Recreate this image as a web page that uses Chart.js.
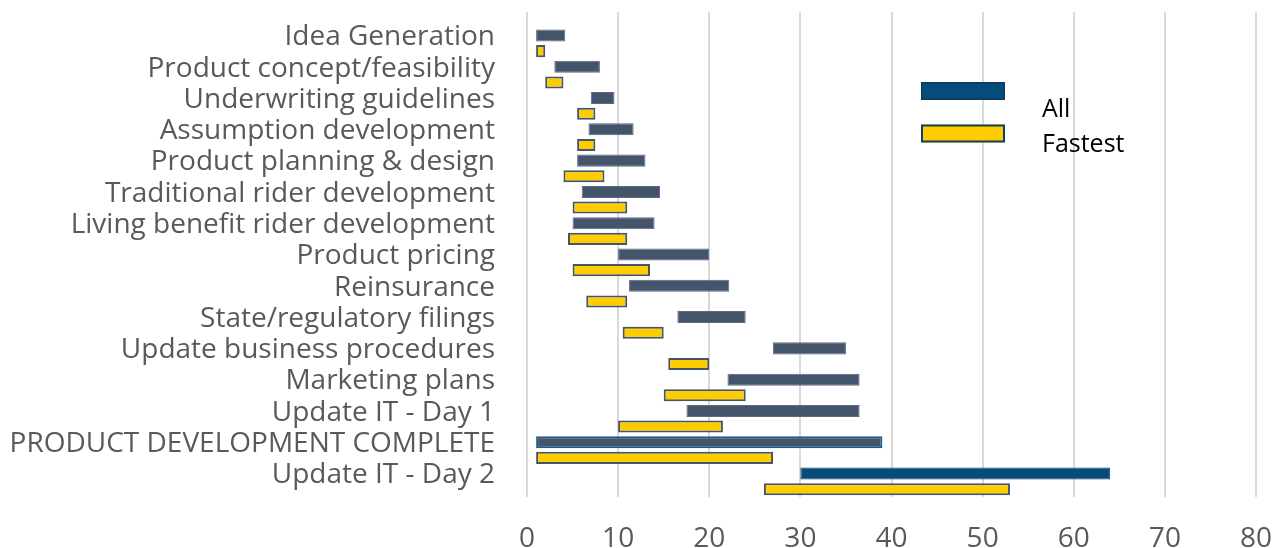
<!DOCTYPE html>
<html><head><meta charset="utf-8">
<script src="https://cdn.jsdelivr.net/npm/chart.js@4.4.1/dist/chart.umd.min.js"></script>
<style>html,body{margin:0;padding:0;background:#fff;} canvas{display:block;}</style>
</head><body>
<canvas id="c" width="1275" height="548"></canvas>
<script>
const categories = [
  "Idea Generation",
  "Product concept/feasibility",
  "Underwriting guidelines",
  "Assumption development",
  "Product planning & design",
  "Traditional rider development",
  "Living benefit rider development",
  "Product pricing",
  "Reinsurance",
  "State/regulatory filings",
  "Update business procedures",
  "Marketing plans",
  "Update IT - Day 1",
  "PRODUCT DEVELOPMENT COMPLETE",
  "Update IT - Day 2"
];
const seriesNames = ["All", "Fastest"];
const allStart     = [1, 3, 7,   6.75, 5.5, 6,    5,  10, 11.2, 16.5, 27, 22,   17.5, 1,  30];
const allEnd       = [4.2, 8, 9.6, 11.7, 13, 14.6, 14, 20, 22.2, 24,   35, 36.5, 36.5, 39, 64];
const fastestStart = [1, 2, 5.5, 5.5, 4,   5,  4.5, 5,    6.5, 10.5, 15.5, 15, 10,   1,  26];
const fastestEnd   = [2, 4, 7.5, 7.5, 8.5, 11, 11,  13.5, 11,  15,   20,   24, 21.5, 27, 53];
const xMin = 0, xMax = 80, xStep = 10;

const SLATE = '#44546A', BLUE = '#054C7C', YELLOW = '#FFCC00';
const FONT = '"Open Sans", "DejaVu Sans", sans-serif';

const toPoints = (s, e) => s.map((v, i) => ({ x: [v, e[i]], y: i }));

const zeroPad = s => { s.paddingTop = 0; s.paddingBottom = 0; s.paddingLeft = 0; s.paddingRight = 0; };

const legendPlugin = {
  id: 'sideLegend',
  afterDraw(chart) {
    const ctx = chart.ctx;
    const ds = chart.data.datasets;
    ctx.save();
    const sw = [
      { y: 82, fill: BLUE, stroke: '#0F3A5F', lw: 1.5 },
      { y: 124.5, fill: YELLOW, stroke: '#0E3F66', lw: 2 }
    ];
    sw.forEach(s => {
      ctx.fillStyle = s.fill;
      ctx.fillRect(921, s.y, 84, 18);
      ctx.strokeStyle = s.stroke;
      ctx.lineWidth = s.lw;
      ctx.strokeRect(921 + s.lw / 2, s.y + s.lw / 2, 84 - s.lw, 18 - s.lw);
    });
    ctx.fillStyle = '#000';
    ctx.font = '25px ' + FONT;
    ctx.textAlign = 'left';
    ctx.textBaseline = 'alphabetic';
    ctx.fillText(ds[0].label, 1042, 117);
    ctx.fillText(ds[1].label, 1042, 152);
    ctx.restore();
  }
};

new Chart(document.getElementById('c'), {
  type: 'bar',
  data: {
    datasets: [
      {
        label: seriesNames[0],
        data: toPoints(allStart, allEnd),
        backgroundColor: ctx => ctx.dataIndex === categories.length - 1 ? BLUE : SLATE,
        borderColor: ctx => ctx.dataIndex === categories.length - 2 ? '#1A5D8F'
                          : (ctx.dataIndex === categories.length - 1 ? '#1F3F60' : '#5A6980'),
        borderWidth: ctx => ctx.dataIndex === categories.length - 2 ? 2 : 1,
        borderSkipped: false,
        barPercentage: 0.77,
        categoryPercentage: 1.0
      },
      {
        label: seriesNames[1],
        data: toPoints(fastestStart, fastestEnd),
        backgroundColor: YELLOW,
        borderColor: SLATE,
        borderWidth: 2,
        borderSkipped: false,
        barPercentage: 0.77,
        categoryPercentage: 1.0
      }
    ]
  },
  options: {
    indexAxis: 'y',
    responsive: false,
    animation: false,
    layout: { padding: { top: 12, right: 19, bottom: 0, left: 0 } },
    plugins: { legend: { display: false }, tooltip: { enabled: false } },
    scales: {
      x: {
        type: 'linear',
        position: 'bottom',
        offset: false,
        min: xMin, max: xMax,
        ticks: { stepSize: xStep, color: '#595959', font: { family: FONT, size: 28 }, padding: 25 },
        grid: { color: '#D9D9D9', lineWidth: 2, drawTicks: false, offset: false },
        border: { display: false },
        afterFit: s => { s.height = 51; zeroPad(s); }
      },
      y: {
        type: 'linear',
        reverse: true,
        offset: false,
        min: -1, max: categories.length - 0.5,
        ticks: {
          stepSize: 1,
          includeBounds: false,
          autoSkip: false,
          color: '#595959',
          font: { family: FONT, size: 28 },
          padding: 32,
          labelOffset: -6,
          callback: v => (Number.isInteger(v) && v >= 0 && v < categories.length) ? categories[v] : ''
        },
        grid: { display: false, drawTicks: false, offset: false },
        border: { display: false },
        afterFit: s => { s.width = 527; zeroPad(s); }
      }
    }
  },
  plugins: [legendPlugin]
});
</script>
</body></html>
